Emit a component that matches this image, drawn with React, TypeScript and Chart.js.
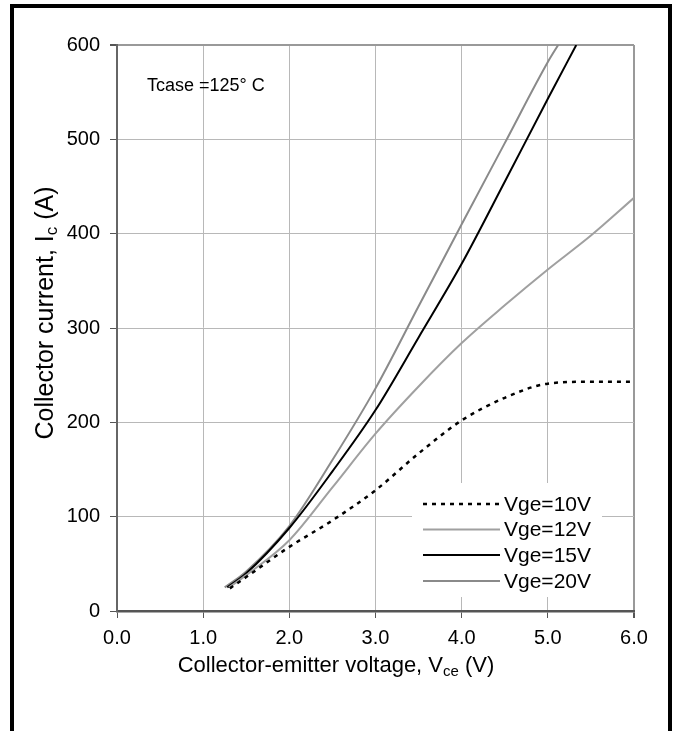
import React, { useEffect, useRef } from "react";
import { Chart, registerables } from "chart.js";

Chart.register(...registerables);

// Collector-emitter voltage (V) / collector current (A) for each gate voltage
const vge10Vce = [1.31, 1.5, 2.0, 2.5, 3.0, 3.5, 4.0, 4.5, 5.0, 5.5, 6.0];
const vge10Ic = [24, 36, 68, 96, 128, 167, 202, 226, 241, 243, 243];
const vge12Vce = [1.3, 1.5, 2.0, 2.5, 3.0, 3.5, 4.0, 4.5, 5.0, 5.5, 6.0];
const vge12Ic = [25, 38, 75, 131, 188, 238, 284, 324, 362, 398, 438];
const vge15Vce = [1.28, 1.5, 2.0, 2.5, 3.0, 3.5, 4.0, 4.5, 5.0, 5.33];
const vge15Ic = [25, 40, 88, 148, 213, 290, 368, 455, 543, 600];
const vge20Vce = [1.25, 1.5, 2.0, 2.5, 3.0, 3.5, 4.0, 4.5, 5.0, 5.12];
const vge20Ic = [25, 42, 90, 160, 236, 323, 410, 496, 582, 600];

const seriesLabels = ["Vge=10V", "Vge=12V", "Vge=15V", "Vge=20V"];
const xTicks = [0, 1, 2, 3, 4, 5, 6];
const yTicks = [0, 100, 200, 300, 400, 500, 600];
const annotationText = "Tcase =125\u00b0 C";

const FONT = "'Liberation Sans', Arial, sans-serif";

const toPoints = (xs: number[], ys: number[]) => xs.map((x, i) => ({ x, y: ys[i] }));

const textPlugin = {
  id: "textPlugin",
  afterDatasetsDraw(chart: any) {
    const ctx = chart.ctx as CanvasRenderingContext2D;
    ctx.save();
    // legend box
    ctx.fillStyle = "#ffffff";
    ctx.fillRect(412, 483, 190, 114);
    const rows = [504, 529.5, 555, 581];
    chart.data.datasets.forEach((ds: any, i: number) => {
      const y = rows[i];
      ctx.beginPath();
      ctx.strokeStyle = ds.borderColor;
      ctx.lineWidth = ds.borderWidth;
      ctx.setLineDash(ds.borderDash || []);
      ctx.moveTo(423, y);
      ctx.lineTo(500, y);
      ctx.stroke();
      ctx.setLineDash([]);
      ctx.fillStyle = "#000";
      ctx.font = `21px ${FONT}`;
      ctx.textAlign = "left";
      ctx.textBaseline = "middle";
      ctx.fillText(ds.label, 504, y + 1);
    });
    // annotation
    ctx.font = `18px ${FONT}`;
    ctx.fillStyle = "#000";
    ctx.textAlign = "left";
    ctx.textBaseline = "middle";
    ctx.fillText(annotationText, 147, 86);
    ctx.restore();
  },
  afterDraw(chart: any) {
    const ctx = chart.ctx as CanvasRenderingContext2D;
    const drawSub = (
      parts: [string, boolean][],
      cx: number,
      cy: number,
      rot: number,
      size: number,
      subSize: number,
      base: number,
      subBase: number
    ) => {
      ctx.save();
      ctx.translate(cx, cy);
      ctx.rotate(rot);
      ctx.fillStyle = "#000";
      ctx.textBaseline = "alphabetic";
      ctx.textAlign = "left";
      let total = 0;
      parts.forEach(([t, sub]) => {
        ctx.font = `${sub ? subSize : size}px ${FONT}`;
        total += ctx.measureText(t).width;
      });
      let x = -total / 2;
      parts.forEach(([t, sub]) => {
        ctx.font = `${sub ? subSize : size}px ${FONT}`;
        ctx.fillText(t, x, sub ? subBase : base);
        x += ctx.measureText(t).width;
      });
      ctx.restore();
    };
    drawSub(
      [["Collector-emitter voltage, V", false], ["ce", true], [" (V)", false]],
      336,
      664,
      0,
      22,
      15,
      8,
      12
    );
    drawSub(
      [["Collector current, I", false], ["c", true], [" (A)", false]],
      44,
      313,
      -Math.PI / 2,
      25,
      17,
      9,
      13
    );
  },
};

export default function App() {
  const canvasRef = useRef<HTMLCanvasElement>(null);

  useEffect(() => {
    document.body.style.margin = "0";
    const canvas = canvasRef.current!;
    const chart = new Chart(canvas, {
      type: "line",
      data: {
        datasets: [
          {
            label: seriesLabels[0],
            data: toPoints(vge10Vce, vge10Ic),
            borderColor: "#000000",
            borderWidth: 2.5,
            borderDash: [4, 5],
          },
          {
            label: seriesLabels[1],
            data: toPoints(vge12Vce, vge12Ic),
            borderColor: "#a0a0a0",
            borderWidth: 2,
          },
          {
            label: seriesLabels[2],
            data: toPoints(vge15Vce, vge15Ic),
            borderColor: "#000000",
            borderWidth: 2,
          },
          {
            label: seriesLabels[3],
            data: toPoints(vge20Vce, vge20Ic),
            borderColor: "#8a8a8a",
            borderWidth: 2,
          },
        ],
      },
      options: {
        responsive: false,
        animation: false,
        devicePixelRatio: 1,
        layout: { padding: { left: 0, top: 45, right: 41, bottom: 0 } },
        elements: {
          point: { radius: 0 },
          line: { cubicInterpolationMode: "monotone", fill: false },
        },
        plugins: {
          legend: { display: false },
          tooltip: { enabled: false },
        },
        scales: {
          x: {
            type: "linear",
            min: 0,
            max: 6,
            afterFit: (s: any) => {
              s.height = 120;
            },
            afterBuildTicks: (s: any) => {
              s.ticks = xTicks.map((v) => ({ value: v }));
            },
            ticks: {
              color: "#000",
              font: { family: FONT, size: 20 },
              padding: 8,
              maxRotation: 0,
              callback: (v: any) => Number(v).toFixed(1),
            },
            grid: {
              color: (c: any) => (c.index === xTicks.length - 1 ? "#999999" : "#b8b8b8"),
              lineWidth: (c: any) => (c.index === xTicks.length - 1 ? 2 : 1),
              tickColor: "#555555",
              tickLength: 7,
            },
            border: { color: "#555555", width: 2.5 },
          },
          y: {
            type: "linear",
            min: 0,
            max: 600,
            afterFit: (s: any) => {
              s.width = 117;
            },
            afterBuildTicks: (s: any) => {
              s.ticks = yTicks.map((v) => ({ value: v }));
            },
            ticks: {
              color: "#000",
              font: { family: FONT, size: 20 },
              padding: 10,
            },
            grid: {
              color: (c: any) => (c.index === yTicks.length - 1 ? "#999999" : "#b8b8b8"),
              lineWidth: (c: any) => (c.index === yTicks.length - 1 ? 2 : 1),
              tickColor: "#555555",
              tickLength: 7,
            },
            border: { color: "#666666", width: 2 },
          },
        },
      },
      plugins: [textPlugin],
    });
    return () => chart.destroy();
  }, []);

  return (
    <div
      style={{
        position: "relative",
        width: 675,
        height: 731,
        overflow: "hidden",
        background: "#fff",
      }}
    >
      <canvas ref={canvasRef} width={675} height={731} style={{ position: "absolute", left: 0, top: 0 }} />
      <div
        style={{
          position: "absolute",
          left: 10,
          top: 4,
          width: 662,
          height: 800,
          border: "4px solid #000",
          boxSizing: "border-box",
          pointerEvents: "none",
        }}
      />
    </div>
  );
}
